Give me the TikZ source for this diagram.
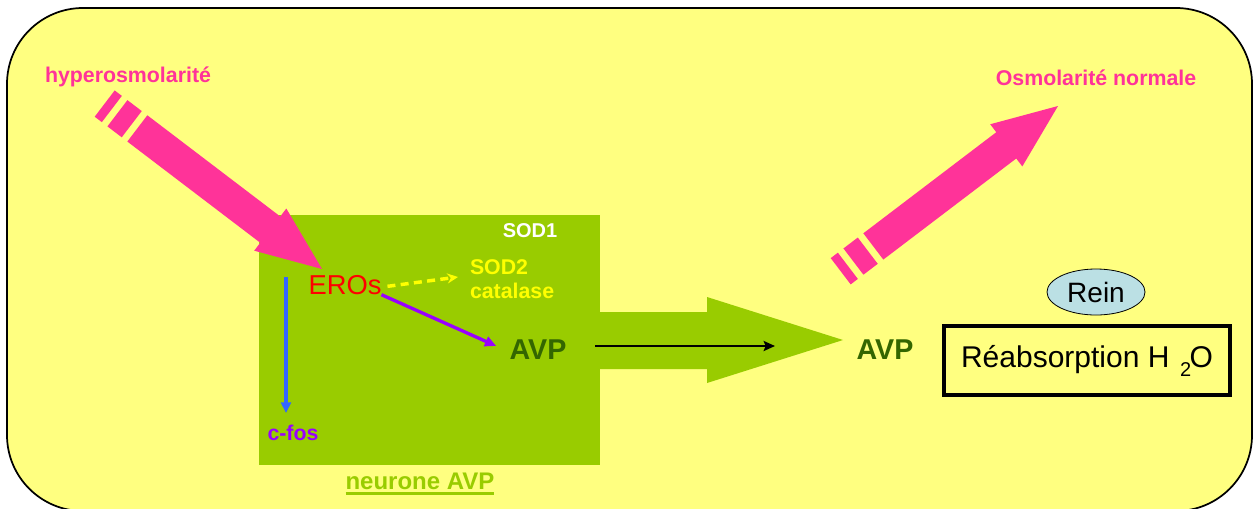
\documentclass[tikz,border=0pt]{standalone}
\usepackage{fontspec}
\setmainfont{Liberation Sans}
\usetikzlibrary{arrows.meta,shapes.geometric}
\definecolor{bgyellow}{HTML}{FFFF80}
\definecolor{neurongreen}{HTML}{99CC00}
\definecolor{pinkc}{HTML}{FF3399}
\definecolor{darkgreen}{HTML}{336600}
\definecolor{yellowc}{HTML}{FFFF00}
\definecolor{redc}{HTML}{FF0000}
\definecolor{purplec}{HTML}{9900FF}
\definecolor{bluec}{HTML}{3366FF}
\definecolor{reinblue}{HTML}{BBE0E4}
\begin{document}
\begin{tikzpicture}[x=0.75pt,y=-0.75pt,
  txt/.style={inner sep=0pt, outer sep=0pt},
  pinktxt/.style={txt, text=pinkc, font=\bfseries\fontsize{16}{19}\selectfont},
  avptxt/.style={txt, text=darkgreen, font=\bfseries\fontsize{21.5}{24}\selectfont},
  bigpink/.style={fill=pinkc}
]
\useasboundingbox (0,0) rectangle (1253,508);
% background
\begin{scope}
\clip (0,0) rectangle (1253,508);
\draw[fill=bgyellow, line width=1.3pt, rounded corners=57pt] (7,8) rectangle (1252,511);
\end{scope}
% neuron
\fill[neurongreen] (259,215) rectangle (600,465);
\fill[neurongreen] (599,312) -- (707,312) -- (707,297) -- (843,340) -- (707,383) -- (707,369) -- (599,369) -- cycle;
% pink arrow 1
\begin{scope}[shift={(241.5pt,-201.75pt)}, x={(-0.597pt,0.4545pt)}, y={(-0.4545pt,-0.597pt)}]
\fill[bigpink] (0,0) -- (65,26.5) -- (65,16.5) -- (232,16.5) -- (232,-16.5) -- (65,-16.5) -- (65,-26.5) -- cycle;
\fill[bigpink] (239,16.5) -- (257,16.5) -- (257,-16.5) -- (239,-16.5) -- cycle;
\fill[bigpink] (264,16.5) -- (273,16.5) -- (273,-16.5) -- (264,-16.5) -- cycle;
\end{scope}
% pink arrow 2
\begin{scope}[shift={(793.5pt,-79.5pt)}, x={(-0.597pt,-0.454pt)}, y={(0.454pt,-0.597pt)}]
\fill[bigpink] (0,0) -- (65,26.5) -- (65,16.5) -- (232,16.5) -- (232,-16.5) -- (65,-16.5) -- (65,-26.5) -- cycle;
\fill[bigpink] (239,16.5) -- (257,16.5) -- (257,-16.5) -- (239,-16.5) -- cycle;
\fill[bigpink] (264,16.5) -- (273,16.5) -- (273,-16.5) -- (264,-16.5) -- cycle;
\end{scope}
% texts
\node[pinktxt] (hyp) at (128,77) {hyperosmolarité};
\node[pinktxt] (osm) at (1096,78) {Osmolarité normale};
\node[txt, text=white, font=\bfseries\fontsize{15}{18}\selectfont] (sod1) at (530,231) {SOD1};
\node[txt, text=yellowc, font=\bfseries\fontsize{16}{18}\selectfont, align=left, anchor=west] (sod2) at (470,279) {SOD2\\catalase};
\node[txt, text=redc, font=\fontsize{20.5}{24}\selectfont] (eros) at (345,285) {EROs};
\node[avptxt] (avp1) at (538,350) {AVP};
\node[avptxt] (avp2) at (885,350) {AVP};
\node[txt, text=purplec, font=\bfseries\fontsize{16}{19}\selectfont] (cfos) at (293,433) {c-fos};
\node[txt, text=neurongreen, font=\bfseries\fontsize{18}{21}\selectfont] (neur) at (420,481) {neurone AVP};
\draw[neurongreen, line width=2.4pt] ([yshift=-3.5pt]neur.base west) -- ([yshift=-3.5pt]neur.base east);
\node[ellipse, draw=black, line width=0.6pt, fill=reinblue, minimum width=73.5pt, minimum height=34.5pt, inner sep=0pt, font=\fontsize{21}{24}\selectfont] (rein) at (1096,292) {Rein};
\node[rectangle, draw=black, line width=3pt, minimum width=214.5pt, minimum height=51.75pt, inner sep=0pt, font=\fontsize{22.5}{26}\selectfont] (reab) at (1087,360.5) {Réabsorption H\hspace{0.35em}\raisebox{-0.3em}{\fontsize{15}{15}\selectfont 2}\hspace{-0.05em}O};
% connectors
\coordinate (sodin) at (458,277);
\draw[yellowc, line width=2.6pt, dash pattern=on 6pt off 4pt, -{Stealth[length=8pt,width=7.5pt]}] ([xshift=4.5pt,yshift=-1pt]eros.east) -- (sodin);
\draw[purplec, line width=2.5pt, -{Triangle[length=8.5pt,width=7.5pt]}] (eros.south east) -- ([xshift=-10pt,yshift=3pt]avp1.west);
\coordinate (bstart) at (286,277);
\coordinate (bend) at (286,413);
\draw[bluec, line width=2.3pt, -{Triangle[length=8pt,width=7.5pt]}] (bstart) -- (bend);
\coordinate (kstart) at (595,346);
\coordinate (kend) at (775,346);
\draw[black, line width=2pt, -{Stealth[length=8.5pt,width=7.5pt,inset=1.5pt]}] (kstart) -- (kend);
\end{tikzpicture}
\end{document}
